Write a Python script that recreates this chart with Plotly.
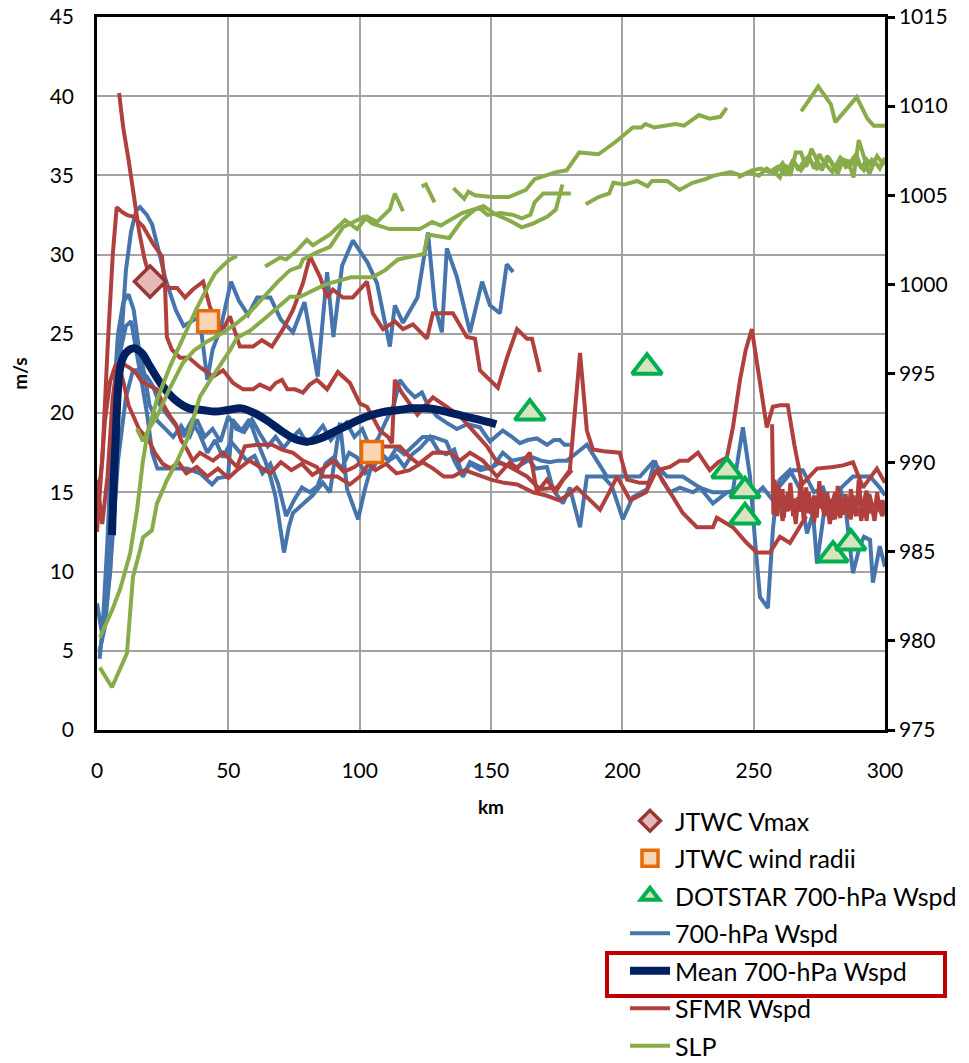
import plotly.graph_objects as go

# ---------------- data ----------------
jtwc_vmax_km = [20.2]
jtwc_vmax_ms = [28.3]

jtwc_radii_km = [42.3, 104.7]
jtwc_radii_ms = [25.8, 17.55]

dotstar_km = [164.8, 209.4, 239.8, 246.7, 246.7, 280.2, 287.0]
dotstar_ms = [20.0, 22.9, 16.35, 15.1, 13.45, 11.05, 11.8]

mean_km = [5.7, 7, 9, 11, 14, 17, 20, 25, 30, 35, 40, 45, 50, 55, 60, 65, 70, 75, 80, 85,
           90, 95, 100, 105, 110, 115, 120, 125, 130, 135, 140, 145, 150, 152]
mean_ms = [12.3, 18, 23, 23.8, 24.1, 23.8, 23.0, 21.7, 20.8, 20.3, 20.2, 20.1, 20.2, 20.3, 20.0,
           19.5, 18.9, 18.4, 18.2, 18.4, 18.8, 19.2, 19.6, 19.9, 20.1, 20.2, 20.3, 20.3, 20.2,
           20.0, 19.8, 19.6, 19.4, 19.3]

# 700-hPa wind speed legs
blue1_km = [1, 3, 5, 7, 9, 11, 13, 15, 16.4, 19, 21, 24, 26, 28, 30, 33, 36, 39, 42, 44, 47, 51,
            54, 57.5, 61, 66, 70, 74.6, 79, 84, 87.6, 90, 93.3, 97.4, 103, 106.6, 111.5, 113.4,
            116.5, 122, 126, 128.7, 131.3, 133.2, 137, 142, 146.6, 149.6, 153.4, 156, 158.4]
blue1_ms = [5.0, 6.5, 10, 17, 24, 29, 31.5, 32.8, 33.0, 32.5, 31.9, 29.9, 28.5, 27.5, 26.5, 25.5,
            25.8, 26.1, 22.1, 24.0, 25.3, 28.3, 27.1, 26.2, 27.3, 27.3, 25.9, 25.1, 27.0, 22.3,
            28.9, 24.8, 29.3, 30.9, 29.5, 28.2, 24.2, 26.8, 25.7, 27.3, 31.4, 26.7, 25.1, 30.4,
            28.6, 25.1, 28.3, 26.8, 26.3, 29.4, 28.9]

blue2_km = [0, 2, 4, 6, 8, 10, 12, 14, 16, 18, 20, 23, 26, 29, 32, 35, 38, 41, 44, 47, 50, 53,
            56, 59, 62, 65, 68, 71, 74, 77, 80, 83, 86, 89, 92, 95, 98, 101, 104, 107, 110, 113,
            115.3, 118, 121, 123.7, 126, 129.4, 133, 137, 141, 145.8, 149.6, 154.5, 158, 161,
            164, 167.5, 171.3, 174, 176.2, 178, 180]
blue2_ms = [8, 6, 12, 20, 25, 27, 27.5, 26.5, 24, 22.5, 20.5, 19.5, 19.0, 18.5, 19.2, 18.4, 19.6,
            18.5, 19.0, 18.2, 19.8, 19.0, 18.8, 19.6, 18.7, 17.9, 18.5, 17.8, 18.4, 18.9, 18.1,
            18.6, 19.2, 18.3, 18.9, 19.4, 18.5, 19.0, 17.8, 18.4, 19.5, 20.5, 22.1, 21.5, 21.0,
            21.3, 20.5, 19.8, 19.4, 19.0, 19.3, 19.1, 18.2, 18.9, 18.5, 18.1, 18.3, 18.4, 18.0,
            18.3, 18.3, 18.0, 18.0]

blue3_km = [1, 3, 5, 7, 9, 11, 13, 15, 17, 19, 21, 23, 26, 30, 34.3, 39.2, 43.8, 46, 49.9, 51.5,
            55, 58, 61, 64, 66, 68, 70, 71.2, 73, 74.6, 78, 82, 86, 88.7, 92.5, 95.2, 99.4, 102,
            105, 108, 111, 114, 117, 120, 124, 128, 133, 136, 139.3, 142, 146, 149.6, 153.4, 156,
            159.9, 163, 166, 169, 172.4, 175.5, 178.9, 182.7, 186.5, 190.3, 194.1, 197.9, 202,
            206.7, 211.6, 217, 223, 229.5, 234.5, 238.3, 242, 245.9, 248.6, 250.5, 252.4, 255.4,
            257.3, 258.9, 262.7, 265, 268.7, 271, 273, 276.4, 279, 282.8, 287.8, 291, 294.3, 298,
            300]
blue3_ms = [4.5, 8, 14, 20, 24, 25.5, 25.8, 24, 22, 20, 17.5, 16.5, 16.5, 16.5, 16.5, 16.2, 15.5,
            15.9, 16.0, 19.6, 18.9, 19.6, 18.2, 17.0, 16.0, 14.7, 12.5, 11.2, 12.8, 13.7, 14.2,
            14.8, 15.6, 15.0, 19.4, 15.2, 13.3, 15.2, 17.0, 17.5, 17.0, 17.8, 17.4, 17.9, 18.5,
            18.5, 18.2, 17.0, 16.0, 16.9, 16.6, 16.5, 16.9, 16.7, 16.6, 16.9, 17.2, 17.0, 16.9,
            17.0, 17.0, 17.5, 18.0, 17.0, 16.0, 16.0, 16.0, 16.0, 16.9, 16.0, 16.0, 15.3, 15.0,
            15.0, 15.0, 19.1, 16.0, 12.0, 8.4, 7.7, 12.6, 15.2, 16.0, 16.4, 16.4, 15.6, 15.0,
            15.3, 14.0, 15.2, 16.0, 16.0, 16.0, 15.3, 14.8]

blue4_km = [2, 5, 8, 11, 13.7, 16, 19, 21.3, 24, 27, 30, 33, 36, 39, 42, 45, 48, 51, 54, 57, 60,
            63, 66, 69, 72, 75, 78, 81, 84, 87, 90, 93, 96, 99, 102, 105, 108, 111, 114, 117, 120,
            123, 126.8, 130, 133, 136, 139.3, 142, 146, 150.7, 154.5, 158, 163.7, 167, 171.3,
            173.6, 177.4, 180, 183.9, 186.5, 189, 192.6, 196, 200.2, 204, 207, 209.4, 212.4, 215,
            218.1, 221.9, 226.9, 229.5, 234.5, 239.8, 244.8, 249.7, 253.5, 257.3, 260, 263.8,
            267.6, 270.3, 272.6, 274.1, 277, 280.2, 283, 285, 287.8, 290.4, 292, 294.3, 295.4,
            298, 300]
blue4_ms = [6, 10, 17, 21, 22.7, 22.7, 22.3, 21.7, 20.5, 19.8, 19.2, 18.6, 19.5, 18.7, 17.5,
            18.3, 17.2, 18.2, 17.6, 17.0, 17.3, 16.2, 16.8, 15.5, 13.5, 14.5, 15.3, 15.0, 15.4,
            16.8, 17.2, 16.5, 17.5, 17.2, 16.2, 16.5, 17.4, 17.0, 17.3, 16.6, 17.4, 17.8, 18.5,
            17.6, 17.4, 17.7, 16.0, 16.8, 16.4, 16.6, 17.5, 17.0, 17.2, 16.5, 16.6, 15.2, 14.3,
            15.3, 12.8, 16.0, 16.0, 16.0, 15.4, 13.3, 14.7, 15.0, 15.2, 17.0, 15.8, 15.0, 15.3,
            15.0, 15.3, 14.3, 15.0, 15.2, 14.7, 15.3, 14.5, 15.8, 16.4, 15.2, 12.4, 13.7, 10.5,
            14.0, 13.3, 15.2, 14.0, 9.9, 11.6, 12.2, 12.0, 9.3, 11.6, 10.3]

# SFMR wind speed legs
red1_km = [8.4, 10, 12, 14, 16, 18, 19.4, 21, 22.5, 24.7, 27.8, 30.5, 33.5, 36.5, 40.4, 43, 45.7,
           48, 50.6, 54.4, 59.4, 62.8, 66.6, 70.8, 74.6, 78.4, 81.1, 84.9, 87.6, 89.8, 93.6, 97.4,
           102.8, 105, 108.9, 113.4, 116.5, 120.3, 125.6, 127.9, 135.5, 140.8, 143.9, 145.8,
           152.6, 156.1, 159.9, 163.7, 165.6, 168.6]
red1_ms = [40.2, 38, 36, 33.8, 31.5, 29.8, 28.9, 28.0, 27.8, 28.1, 27.9, 27.9, 27.3, 27.8, 28.3,
           26.7, 25.7, 25.3, 26.1, 24.2, 24.2, 24.6, 24.2, 25.3, 26.5, 28.2, 29.9, 28.6, 27.3,
           27.8, 27.3, 27.3, 28.3, 26.3, 25.3, 25.8, 25.3, 25.6, 24.7, 26.3, 26.3, 24.8, 24.7,
           22.7, 21.6, 23.5, 25.3, 24.7, 24.7, 22.6]

red2_km = [0, 2, 4, 6, 7.5, 9.5, 11.5, 13.7, 17.5, 21.3, 24.7, 25.9, 26.6, 28.5, 31.6, 35, 39.2,
           44.2, 48, 51.8, 55.6, 59.4, 62, 65.9, 68, 70.4, 72.5, 75.4, 78.4, 81, 83.7, 87.6, 91.7,
           96.3, 100.1, 102.8, 107.7, 110.8, 112.3, 113.4, 116, 119.2, 122, 124.5, 127.9, 133.2,
           138.2, 143.1, 148.5, 152.3, 157.2, 163.7, 168.6, 175.1, 180, 181.2, 183.9, 186.5,
           188.8, 193, 199, 201.8, 206.7, 210, 213.2, 218.1, 221.9, 225, 228.8, 233.3, 236.5,
           239.8, 242.1, 244.8, 247, 249.3, 252, 255, 257.3, 260, 263, 265.5, 268.4, 274.1,
           280.2, 284, 287.8, 291.6, 296.9, 300]
red2_ms = [14, 17, 24, 30, 33.0, 32.7, 32.5, 32.4, 31.8, 30.7, 29.9, 28.0, 24.8, 24.0, 23.5,
           23.5, 22.9, 22.3, 22.7, 21.9, 21.5, 21.5, 21.8, 21.5, 21.9, 22.1, 21.5, 21.5, 21.3,
           21.8, 22.1, 21.5, 22.6, 21.9, 20.6, 20.4, 18.9, 18.5, 18.1, 22.1, 21.3, 20.6, 19.9,
           20.4, 21.0, 20.4, 19.8, 18.9, 17.9, 16.9, 16.6, 16.0, 15.2, 15.3, 16.4, 18.7, 23.8,
           18.9, 17.7, 17.6, 17.5, 15.8, 15.6, 15.6, 16.4, 16.6, 17.0, 17.0, 17.5, 16.4, 16.9,
           17.2, 19.1, 22.1, 24.0, 25.3, 22.5, 19.1, 20.4, 20.5, 20.5, 18.0, 15.5, 16.5, 16.6,
           16.7, 16.9, 15.3, 16.5, 15.6]

red3_km = [0, 1.5, 3, 5, 7, 9, 11, 13, 15, 17, 19, 22.8, 25, 27.8, 30, 32, 34.3, 36.5, 39.2,
           44.2, 48, 53.3, 56.3, 60.9, 66.6, 70.4, 74.6, 78.4, 83.7, 86, 91.4, 96.3, 100.1, 102.8,
           105.5, 108.9, 115.3, 119.2, 122.5, 127.9, 134.4, 138.2, 142, 146.9, 152.3, 157.2, 160,
           164.8, 167.5, 171.3, 174.5, 177.5, 180.8]
red3_ms = [12.5, 15.8, 19.5, 22, 23, 23.2, 23.0, 22.8, 22.5, 22.0, 21.8, 21.5, 20.6, 19.8, 19.3,
           18.3, 17.7, 17.0, 17.5, 17.0, 17.5, 16.6, 17.9, 18.0, 18.0, 17.7, 17.5, 17.0, 16.6,
           16.0, 16.0, 15.5, 16.0, 16.6, 17.3, 17.9, 17.9, 17.2, 16.8, 17.5, 17.5, 17.0, 17.5,
           17.0, 16.0, 16.9, 16.5, 17.5, 15.0, 15.8, 15.0, 15.8, 16.4]

red4_km = [0, 2, 4, 6, 8, 10, 12, 14, 16, 18, 20, 22, 25, 28, 31, 34, 38, 42, 46, 50, 54, 58,
           62, 66, 70, 74, 78, 82, 86, 90, 94, 98, 102, 106, 110, 114, 119, 124, 128, 132, 135.5,
           140, 145, 150, 155, 160, 166, 171, 176, 179, 182.7, 187, 191.5, 195, 198, 203, 209,
           213, 218.1, 223, 228.4, 234.5, 236, 242.1, 247.4, 251.2, 256.2, 260, 263.8, 267.6, 270]
red4_ms = [15.8, 13, 16, 21, 23.2, 22.0, 20.5, 19.8, 19.0, 18.6, 18.2, 17.5, 16.8, 16.5, 16.9,
           16.2, 16.6, 16.0, 16.5, 15.9, 16.5, 17.0, 16.6, 16.2, 16.9, 16.4, 16.8, 16.1, 16.5,
           17.0, 16.3, 16.6, 17.1, 16.4, 16.8, 16.2, 16.4, 16.9, 16.5, 16.0, 16.0, 16.4, 16.1,
           15.8, 15.6, 15.5, 15.0, 14.8, 14.5, 14.8, 15.3, 14.6, 13.9, 15.0, 16.0, 14.5, 15.0,
           16.4, 15.0, 13.7, 12.8, 12.8, 13.4, 12.8, 11.8, 11.2, 11.2, 12.2, 11.8, 12.8, 13.5]

red5_km = [257, 257.5, 258, 259, 259.5, 260, 261, 261.5, 262, 263, 264, 265, 266, 267, 268, 269,
           270, 271, 272, 273, 274, 275, 276, 277, 278, 279, 280, 281, 282, 283, 284, 285, 286,
           287, 288, 289, 290, 291, 292, 293, 294, 295, 296, 297, 298, 299, 300]
red5_ms = [19.3, 13.6, 15.8, 13.5, 15.5, 14.0, 15.2, 13.4, 14.8, 13.8, 15.6, 13.5, 14.6, 14.0,
           15.9, 13.3, 14.2, 15.0, 13.6, 14.8, 13.4, 15.7, 14.2, 13.5, 15.0, 13.8, 14.6, 13.3,
           15.4, 14.1, 13.6, 14.9, 13.4, 15.2, 14.0, 13.5, 15.8, 13.9, 14.4, 13.2, 14.9, 14.3,
           13.6, 15.0, 13.8, 14.5, 14.0]

red6_km = [260, 261, 262, 263, 264, 265, 266, 267, 268, 269, 270, 271, 272, 273, 274, 275, 276,
           277, 278, 279, 280, 281, 282, 283, 284, 285, 286, 287, 288, 289, 290, 291, 292, 293,
           294, 295, 296, 297, 298, 299, 300]
red6_ms = [14.5, 13.2, 14.1, 15.0, 13.9, 14.4, 13.0, 14.7, 13.8, 14.2, 15.3, 13.7, 14.3, 13.1,
           14.6, 14.0, 15.1, 13.6, 14.2, 13.0, 14.3, 15.0, 13.8, 13.4, 14.6, 13.9, 14.2, 13.3,
           14.8, 13.6, 14.0, 13.2, 14.5, 15.1, 13.7, 14.1, 13.2, 14.4, 13.9, 13.5, 14.2]

# SLP legs (hPa, right axis)
slp_a_km = [15.2, 17.5, 19.5, 22.8, 27.8, 32.7, 38.1, 43, 44.9, 47.6, 50.6, 53.3]
slp_a_hpa = [991.9, 991.2, 991.8, 993.5, 995.4, 997.0, 998.7, 1000.1, 1000.6, 1001.0, 1001.4, 1001.6]

slp_c_km = [1.1, 5.7, 8.8, 12.6, 15.2, 17.5, 19.4, 22.8, 27.8, 32.7, 37, 42, 47, 53, 58, 63,
            68.5, 73.5, 77.3, 78.4, 83.7, 88.7, 93.6, 99, 101.6, 104.9, 111.4, 116.3, 122.8,
            127.6, 130.9, 139, 145.5, 148.7, 153.6, 158.5, 161.7, 165, 166.6, 169.9, 174.7, 180.4]
slp_c_hpa = [980.2, 981.7, 982.9, 984.9, 987.3, 990.1, 991.8, 992.6, 994.2, 995.6, 996.3, 996.8,
             997.2, 997.8, 998.4, 999.2, 1000.1, 1000.8, 1001.0, 1001.4, 1001.8, 1002.1, 1003.2,
             1003.6, 1003.8, 1003.4, 1003.1, 1003.1, 1003.1, 1003.5, 1003.3, 1004.0, 1004.3,
             1003.9, 1004.0, 1003.9, 1003.7, 1003.9, 1004.6, 1005.1, 1005.1, 1005.1]

slp_d_km = [1.1, 5.7, 11.4, 13.7, 16.4, 17.5, 20.9, 22.8, 26.6, 30.5, 34.3, 39.2, 43, 45.7,
            50.6, 53.3, 58.2, 63.2, 68.5, 73.5, 77.3, 87, 96.8, 104.9, 109.7, 114.6, 121.1,
            124.4, 126, 129.2, 134.1, 139, 143.9, 147.1, 152, 156.8, 161.7, 165.8, 171.5, 174.7,
            177.2]
slp_d_hpa = [978.5, 977.4, 979.3, 983.6, 985.1, 985.8, 986.2, 987.7, 989.0, 990.1, 991.3, 993.7,
             994.6, 995.2, 996.3, 997.0, 997.4, 998.0, 998.7, 999.3, 999.3, 1000.0, 1000.4,
             1000.4, 1000.8, 1001.4, 1001.6, 1001.7, 1002.8, 1002.7, 1002.6, 1003.6, 1004.2,
             1004.4, 1003.9, 1003.6, 1003.2, 1003.4, 1003.8, 1004.2, 1005.6]

slp_u_km = [64, 69.7, 72, 76.1, 79.9, 82.2, 88.7, 94.4, 99, 102.8, 106.6, 111.5, 113.4, 116.5]
slp_u_hpa = [1001.0, 1001.5, 1001.4, 1001.9, 1002.5, 1002.2, 1002.8, 1003.6, 1003.1, 1003.8,
             1003.5, 1004.2, 1005.1, 1004.1]

slp_h_km = [123.6, 125.2, 128.5]
slp_h_hpa = [1005.5, 1005.6, 1004.6]

slp_t_km = [135.7, 139.8, 141.4, 143.9, 150.4, 156.8, 163.3, 166.6, 174.7, 178.8, 183.6, 190.9,
            197.5, 204, 207.2, 208.8, 212.1, 215.3, 220.2, 223.5, 229.2, 233.2, 237.3, 239.7]
slp_t_hpa = [1005.4, 1004.8, 1005.2, 1005.0, 1004.9, 1004.9, 1005.3, 1005.9, 1006.3, 1006.4,
             1007.4, 1007.3, 1008.0, 1008.8, 1008.8, 1009.0, 1008.8, 1008.9, 1009.0, 1008.9,
             1009.5, 1009.3, 1009.4, 1009.9]

slp_r_km = [186.1, 190.9, 195, 196.6, 200.7, 205.6, 209.6, 211.3, 217, 221.8, 226.7, 231.6,
            234.8, 241.3, 245.4, 249.4, 252.7, 255.9, 259.2, 262, 265, 268, 271, 274, 277, 280,
            283, 286, 289, 292, 295, 298, 300]
slp_r_hpa = [1004.5, 1004.9, 1005.1, 1005.7, 1005.6, 1005.8, 1005.5, 1005.8, 1005.8, 1005.3,
             1005.7, 1005.9, 1006.1, 1006.3, 1006.1, 1006.4, 1006.5, 1006.3, 1006.6, 1006.2,
             1006.9, 1006.4, 1007.0, 1006.5, 1006.8, 1006.3, 1007.1, 1006.6, 1006.9, 1006.4,
             1007.0, 1006.6, 1006.9]

slp_n1_km = [244, 248, 252, 255, 258, 261, 263, 265, 267, 269, 271, 273, 275, 277, 279, 281,
             283, 285, 287, 289, 291, 293, 295, 297, 299, 300]
slp_n1_hpa = [1006.0, 1006.3, 1006.1, 1006.5, 1006.2, 1006.8, 1006.3, 1007.0, 1006.4, 1006.9,
              1007.2, 1006.5, 1007.3, 1006.8, 1007.0, 1006.4, 1007.1, 1006.6, 1006.9, 1007.3,
              1006.5, 1007.0, 1006.6, 1007.2, 1006.8, 1007.0]

slp_n2_km = [258, 260, 262, 264, 266, 268, 270, 272, 274, 276, 278, 280, 282, 284, 286, 288,
             290, 292, 294, 296, 298, 300]
slp_n2_hpa = [1006.3, 1006.0, 1006.7, 1006.1, 1007.4, 1007.4, 1006.6, 1007.6, 1007.0, 1006.4,
              1007.2, 1006.8, 1006.2, 1007.0, 1006.9, 1006.0, 1008.1, 1007.2, 1006.2, 1006.9,
              1006.5, 1007.1]

slp_tr_km = [268.1, 274.6, 279.4, 281.1, 289.2, 293.3, 295.7, 300]
slp_tr_hpa = [1009.7, 1011.1, 1010.1, 1009.1, 1010.5, 1009.3, 1008.9, 1008.9]

x_ticks = [0, 50, 100, 150, 200, 250, 300]
y_ticks = [0, 5, 10, 15, 20, 25, 30, 35, 40, 45]
y2_ticks = [975, 980, 985, 990, 995, 1000, 1005, 1010, 1015]


def join(*legs):
    xs, ys = [], []
    for lx, ly in legs:
        if xs:
            xs.append(None)
            ys.append(None)
        xs.extend(lx)
        ys.extend(ly)
    return xs, ys


BLUE = "#4674AD"
NAVY = "#002060"
RED = "#B0403D"
GREEN = "#88AC4A"
FONT = "Lato, 'Open Sans', sans-serif"

fig = go.Figure()

bx, by = join((blue1_km, blue1_ms), (blue2_km, blue2_ms), (blue3_km, blue3_ms), (blue4_km, blue4_ms))
fig.add_trace(go.Scatter(x=bx, y=by, mode="lines", name="700-hPa Wspd",
                         line=dict(color=BLUE, width=4), connectgaps=False, legendrank=4,
                         legendgroup="g4"))

rx, ry = join((red1_km, red1_ms), (red2_km, red2_ms), (red3_km, red3_ms), (red4_km, red4_ms),
              (red5_km, red5_ms), (red6_km, red6_ms))
fig.add_trace(go.Scatter(x=rx, y=ry, mode="lines", name="SFMR Wspd",
                         line=dict(color=RED, width=4), connectgaps=False, legendrank=6,
                         legendgroup="g6"))

fig.add_trace(go.Scatter(x=mean_km, y=mean_ms, mode="lines", name="Mean 700-hPa Wspd",
                         line=dict(color=NAVY, width=8, shape="spline"), legendrank=5,
                         legendgroup="g5"))

fig.add_trace(go.Scatter(x=jtwc_vmax_km, y=jtwc_vmax_ms, mode="markers", name="JTWC Vmax",
                         marker=dict(symbol="diamond", size=24, color="#E6B9B8",
                                     line=dict(color="#953735", width=3.5)),
                         legendrank=1, legendgroup="g1"))
fig.add_trace(go.Scatter(x=jtwc_radii_km, y=jtwc_radii_ms, mode="markers", name="JTWC wind radii",
                         marker=dict(symbol="square", size=21, color="#FCD5B5",
                                     line=dict(color="#E46C0A", width=3.5)),
                         legendrank=2, legendgroup="g2"))
fig.add_trace(go.Scatter(x=dotstar_km, y=dotstar_ms, mode="markers", name="DOTSTAR 700-hPa Wspd",
                         marker=dict(symbol="triangle-up", size=26, color="#D7E4BD",
                                     line=dict(color="#00B050", width=4)),
                         legendrank=3, legendgroup="g3"))

gx, gy = join((slp_a_km, slp_a_hpa), (slp_c_km, slp_c_hpa), (slp_d_km, slp_d_hpa),
              (slp_u_km, slp_u_hpa), (slp_h_km, slp_h_hpa), (slp_t_km, slp_t_hpa),
              (slp_r_km, slp_r_hpa), (slp_n1_km, slp_n1_hpa), (slp_n2_km, slp_n2_hpa),
              (slp_tr_km, slp_tr_hpa))
fig.add_trace(go.Scatter(x=gx, y=gy, mode="lines", name="SLP", yaxis="y2",
                         line=dict(color=GREEN, width=4), connectgaps=False, legendrank=7,
                         legendgroup="g7"))

# plot area in pixels: x 97..885, y 17..730
W, H = 969, 1063
L, R, T, B = 97, 885, 17, 730
pw, ph = R - L, B - T


def px(xp):
    return (xp - L) / pw


def py(yp):
    return (B - yp) / ph


fig.update_layout(
    width=W, height=H,
    margin=dict(l=L, r=W - R, t=T, b=H - B, autoexpand=False),
    paper_bgcolor="white", plot_bgcolor="white",
    font=dict(family=FONT, size=20, color="#000000"),
    xaxis=dict(range=[0, 300], tickvals=x_ticks, showgrid=True, gridcolor="#A3A3A3", gridwidth=1.5,
               showline=True, linecolor="black", linewidth=2.5, mirror=True, ticks="",
               zeroline=False, tickfont=dict(size=21), automargin=False, ticklabelstandoff=20,
               title=dict(text="<b>km</b>", font=dict(size=19), standoff=20)),
    yaxis=dict(range=[0, 45], tickvals=y_ticks, showgrid=True, gridcolor="#A3A3A3", gridwidth=1.5,
               showline=True, linecolor="black", linewidth=2.5, ticks="", zeroline=False,
               tickfont=dict(size=21), automargin=False, ticklabelstandoff=16,
               title=dict(text="<b>m/s</b>", font=dict(size=19), standoff=18)),
    yaxis2=dict(range=[975, 1015], tickvals=y2_ticks, overlaying="y", side="right",
                showgrid=False, showline=True, linecolor="black", linewidth=2.5,
                ticks="outside", ticklen=7, tickwidth=2.5, tickcolor="black", zeroline=False,
                tickfont=dict(size=21), automargin=False),
    showlegend=True,
    legend=dict(x=px(625), y=py(798), xanchor="left", yanchor="top",
                font=dict(size=25, family=FONT), traceorder="grouped", tracegroupgap=2,
                bgcolor="rgba(0,0,0,0)", itemwidth=40, itemsizing="trace"),
    shapes=[dict(type="rect", xref="paper", yref="paper",
                 x0=px(607), x1=px(945), y0=py(996), y1=py(953),
                 line=dict(color="#C00000", width=4), fillcolor="rgba(0,0,0,0)")],
)

fig.write_html("out.html", config={"displayModeBar": False},
               post_script="document.body.style.margin='0px';document.body.style.overflow='hidden';")
